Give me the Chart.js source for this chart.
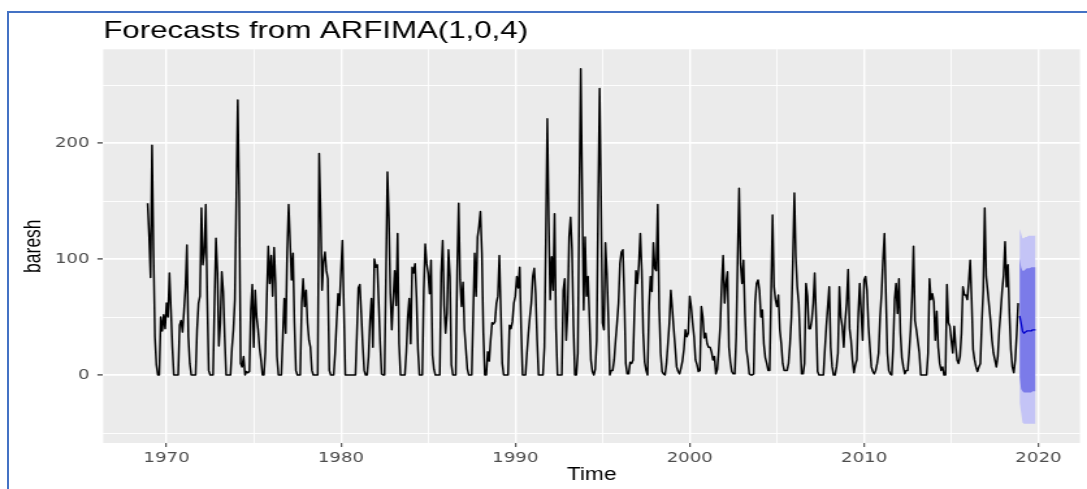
<!DOCTYPE html>
<html>
<head>
<meta charset="utf-8">
<script src="https://cdn.jsdelivr.net/npm/chart.js@4.4.1/dist/chart.umd.min.js"></script>
<style>
  html, body { margin: 0; padding: 0; background: #fff; overflow: hidden; }
  #wrap { position: absolute; left: 0; top: 0; width: 836px; height: 489px; transform: scaleX(1.30024); transform-origin: 0 0; }
  #frame { position: absolute; left: 7px; top: 11px; right: -10px; bottom: -10px; border-left: 2px solid #4472c4; border-top: 2px solid #4472c4; }
</style>
</head>
<body>
<div id="wrap"><canvas id="myChart" width="836" height="489"></canvas></div>
<div id="frame"></div>
<script>
const ctx = document.getElementById('myChart');

// monthly series, Dec 1968 .. Nov 2018 (one row = 12 months)
const startYear = 1968 + 11 / 12;
const baresh = [
  148, 120, 84, 198, 108, 33, 9, 0, 0, 50, 38, 52,
  40, 62, 50, 88, 57, 24, 0, 0, 0, 0, 43, 47,
  37, 55, 75, 112, 33, 10, 0, 0, 0, 0, 39, 62,
  68, 144, 95, 106, 147, 66, 4, 0, 0, 0, 62, 118,
  89, 25, 45, 89, 72, 33, 0, 0, 0, 0, 23, 39,
  65, 154, 237, 151, 10, 7, 16, 0, 3, 2, 3, 56,
  78, 24, 73, 50, 39, 23, 13, 0, 0, 20, 68, 111,
  79, 103, 68, 110, 79, 16, 0, 0, 0, 33, 66, 36,
  106, 147, 116, 82, 105, 45, 4, 0, 0, 0, 62, 83,
  59, 73, 45, 30, 24, 4, 0, 0, 0, 0, 191, 141,
  73, 98, 106, 90, 83, 4, 0, 0, 0, 19, 45, 70,
  60, 89, 116, 59, 0, 0, 0, 0, 0, 0, 0, 0,
  36, 75, 78, 53, 26, 4, 0, 0, 16, 47, 66, 24,
  100, 93, 95, 62, 27, 1, 0, 0, 88, 175, 135, 70,
  39, 66, 90, 60, 122, 27, 0, 0, 0, 0, 20, 50,
  66, 27, 93, 88, 96, 67, 22, 0, 0, 0, 73, 113,
  96, 88, 70, 99, 17, 5, 0, 0, 0, 0, 88, 116,
  60, 36, 53, 108, 85, 9, 0, 0, 0, 90, 148, 82,
  59, 80, 39, 22, 5, 0, 0, 0, 52, 105, 68, 119,
  128, 141, 105, 36, 0, 0, 20, 12, 30, 45, 44, 46,
  62, 68, 103, 56, 10, 0, 0, 0, 0, 43, 40, 46,
  62, 68, 85, 75, 93, 40, 0, 0, 0, 19, 36, 50,
  62, 85, 92, 70, 30, 0, 0, 0, 0, 24, 119, 221,
  132, 65, 102, 73, 139, 40, 0, 0, 0, 0, 73, 83,
  30, 55, 119, 136, 108, 42, 0, 0, 19, 151, 264, 160,
  56, 119, 68, 85, 50, 13, 3, 0, 5, 30, 148, 247,
  152, 45, 39, 114, 88, 50, 0, 4, 4, 13, 30, 45,
  62, 96, 106, 108, 68, 10, 1, 1, 11, 10, 13, 56,
  90, 79, 95, 122, 90, 36, 11, 4, 0, 59, 85, 72,
  114, 92, 90, 147, 57, 19, 3, 1, 0, 10, 27, 45,
  73, 57, 40, 24, 7, 3, 1, 6, 12, 22, 39, 33,
  36, 68, 59, 45, 33, 13, 9, 3, 4, 59, 50, 32,
  36, 27, 24, 24, 20, 13, 16, 1, 5, 22, 42, 78,
  103, 62, 79, 89, 24, 11, 3, 1, 1, 33, 102, 161,
  96, 79, 99, 53, 22, 13, 1, 0, 0, 1, 62, 79,
  82, 73, 50, 56, 27, 15, 10, 4, 4, 70, 138, 76,
  65, 59, 69, 39, 27, 10, 4, 4, 4, 10, 27, 50,
  99, 157, 102, 76, 62, 30, 1, 1, 10, 79, 68, 40,
  40, 47, 62, 88, 50, 3, 0, 0, 0, 0, 22, 42,
  59, 76, 24, 7, 0, 0, 7, 19, 76, 50, 42, 24,
  47, 62, 91, 40, 30, 13, 2, 9, 13, 53, 79, 53,
  30, 82, 85, 73, 42, 24, 7, 3, 1, 4, 10, 19,
  50, 70, 99, 122, 70, 19, 4, 1, 0, 24, 65, 79,
  53, 83, 36, 15, 7, 1, 4, 4, 19, 39, 68, 111,
  47, 39, 29, 19, 0, 0, 0, 0, 0, 19, 83, 65,
  70, 63, 30, 55, 24, 10, 4, 7, 0, 0, 78, 45,
  42, 30, 19, 42, 25, 13, 10, 16, 36, 76, 69, 69,
  65, 80, 99, 65, 22, 13, 7, 3, 7, 10, 45, 73,
  144, 85, 73, 60, 47, 30, 19, 13, 7, 16, 39, 55,
  73, 86, 115, 76, 95, 53, 22, 7, 2, 13, 35, 62
];

// forecast, Dec 2018 .. Nov 2019
const fcMean = [51, 45, 38, 36, 37, 38, 38, 38, 38, 39, 39, 39];
const fcLo80 = [-2, -12, -14, -15, -15, -15, -15, -15, -15, -14, -14, -14];
const fcHi80 = [101, 93, 90, 90, 91, 92, 92, 92, 93, 93, 93, 93];
const fcLo95 = [-24, -32, -41, -42, -42, -42, -42, -42, -42, -42, -42, -42];
const fcHi95 = [126, 122, 118, 118, 119, 119, 120, 120, 120, 120, 120, 120];

const xBreaks = [1970, 1980, 1990, 2000, 2010, 2020];
const xMinor = [1975, 1985, 1995, 2005, 2015];
const yBreaks = [0, 100, 200];
const yMinor = [-50, 50, 150, 250];

const fcStart = startYear + baresh.length / 12;

function toPoints(values, t0) {
    return values.map((v, i) => ({ x: t0 + i / 12, y: v }));
}

// grey panel like ggplot
const panelBg = {
    id: 'panelBg',
    beforeDraw(chart) {
        const a = chart.chartArea;
        const c = chart.ctx;
        c.save();
        c.fillStyle = '#ebebeb';
        c.fillRect(a.left, a.top, a.right - a.left, a.bottom - a.top);
        c.restore();
    }
};

Chart.defaults.font.family = "'Liberation Sans', Arial, sans-serif";

const band = { borderColor: 'transparent', borderWidth: 0, pointRadius: 0 };

new Chart(ctx, {
    type: 'line',
    data: {
        datasets: [
            { ...band, label: 'lo95', data: toPoints(fcLo95, fcStart), fill: false, order: 4 },
            { ...band, label: 'hi95', data: toPoints(fcHi95, fcStart), fill: '-1', backgroundColor: '#c4c4f6', order: 4 },
            { ...band, label: 'lo80', data: toPoints(fcLo80, fcStart), fill: false, order: 3 },
            { ...band, label: 'hi80', data: toPoints(fcHi80, fcStart), fill: '-1', backgroundColor: '#7b7be9', order: 3 },
            { label: 'forecast', data: toPoints(fcMean, fcStart), borderColor: '#0000cc', borderWidth: 1.3,
              pointRadius: 0, fill: false, order: 2, borderJoinStyle: 'round' },
            { label: 'baresh', data: toPoints(baresh, startYear), borderColor: '#000000', borderWidth: 1.5,
              pointRadius: 0, fill: false, order: 1, borderJoinStyle: 'round' }
        ]
    },
    options: {
        responsive: false,
        animation: false,
        devicePixelRatio: 1,
        layout: { padding: { left: 0, right: 5.4, top: 0, bottom: 0 } },
        plugins: {
            legend: { display: false },
            tooltip: { enabled: false },
            title: {
                display: true,
                text: 'Forecasts from ARFIMA(1,0,4)',
                align: 'start',
                fullSize: false,
                color: '#000000',
                font: { size: 24, weight: 'normal' },
                padding: { top: 16.6, bottom: 3.9 }
            }
        },
        scales: {
            x: {
                type: 'linear',
                min: 1966.37,
                max: 2022.38,
                afterBuildTicks: axis => {
                    axis.ticks = xBreaks.concat(xMinor).sort((a, b) => a - b).map(v => ({ value: v }));
                },
                afterFit: s => { s.height = 46; },
                ticks: {
                    autoSkip: false,
                    maxRotation: 0,
                    padding: 3,
                    color: '#4d4d4d',
                    font: { family: 'DejaVu Sans', size: 14 },
                    callback: v => xBreaks.includes(v) ? String(v) : ''
                },
                grid: {
                    color: '#ffffff',
                    lineWidth: c => xBreaks.includes(c.tick.value) ? 1.4 : 0.8,
                    tickLength: 4,
                    tickWidth: 1,
                    tickColor: c => xBreaks.includes(c.tick.value) ? '#333333' : 'rgba(0,0,0,0)'
                },
                border: { display: false },
                title: {
                    display: true,
                    text: 'Time',
                    color: '#000000',
                    font: { size: 17.5 },
                    padding: { top: 0, bottom: 3 }
                }
            },
            y: {
                min: -58.6,
                max: 280.8,
                afterBuildTicks: axis => {
                    axis.ticks = yMinor.concat(yBreaks).sort((a, b) => a - b).map(v => ({ value: v }));
                },
                afterFit: s => { s.width = 79.4; },
                ticks: {
                    padding: 6,
                    color: '#4d4d4d',
                    font: { family: 'DejaVu Sans', size: 14 },
                    callback: v => yBreaks.includes(v) ? String(v) : ''
                },
                grid: {
                    color: '#ffffff',
                    lineWidth: c => yBreaks.includes(c.tick.value) ? 1.8 : 0.9,
                    tickLength: 4.5,
                    tickWidth: 1.2,
                    tickColor: c => yBreaks.includes(c.tick.value) ? '#333333' : 'rgba(0,0,0,0)'
                },
                border: { display: false },
                title: {
                    display: true,
                    text: 'baresh',
                    color: '#000000',
                    font: { size: 17.5 },
                    padding: { top: 15.7, bottom: 0 }
                }
            }
        }
    },
    plugins: [panelBg]
});
</script>
</body>
</html>
